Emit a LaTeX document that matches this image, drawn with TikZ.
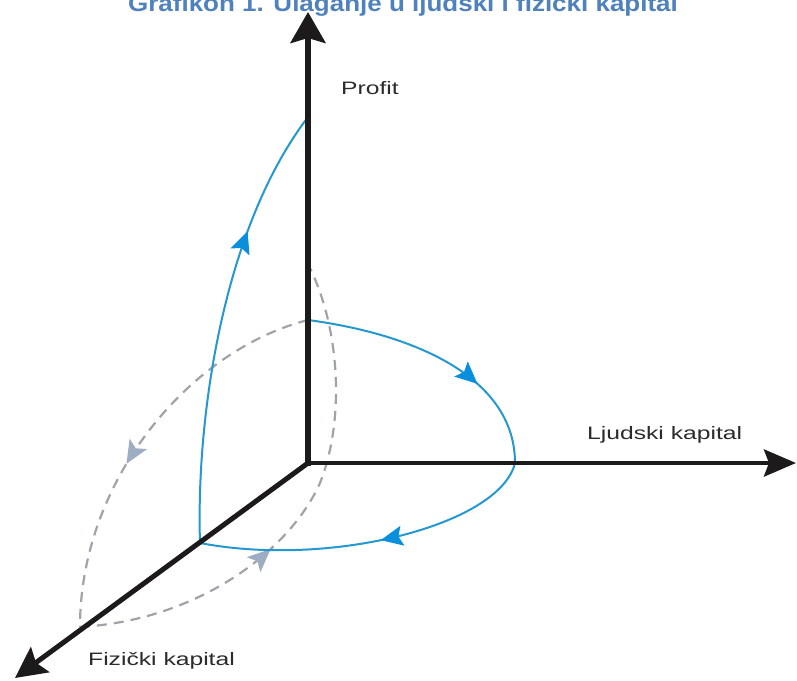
\documentclass[tikz,border=0pt]{standalone}
\usepackage{fontspec}
\setmainfont{Liberation Sans}
\usetikzlibrary{arrows.meta,decorations.markings}
\definecolor{axisblack}{HTML}{1C1A1A}
\definecolor{curveblue}{RGB}{38,152,208}
\definecolor{arrowblue}{RGB}{10,143,220}
\definecolor{dashgray}{RGB}{160,164,170}
\definecolor{arrowgray}{RGB}{158,174,194}
\definecolor{titleblue}{HTML}{4F81BD}
\definecolor{labelgray}{HTML}{2B2B2B}
\tikzset{
  axisline/.style={draw=axisblack, line cap=rect},
  bluecurve/.style={draw=curveblue, line width=2pt},
  graycurve/.style={draw=dashgray, line width=2.2pt, dash pattern=on 10pt off 7pt},
  bluemark/.style={postaction={decorate}, decoration={markings,
      mark=at position #1 with {\arrow{Stealth[length=22pt,width=20pt,inset=4pt,color=arrowblue]}}}},
  graymark/.style={postaction={decorate}, decoration={markings,
      mark=at position #1 with {\arrow{Stealth[length=23pt,width=20pt,inset=5pt,color=arrowgray]}}}},
  axislabel/.style={inner sep=0pt, anchor=base west, text=labelgray, font=\fontsize{18pt}{20pt}\selectfont},
}
\begin{document}
\begin{tikzpicture}[x=1pt,y=-1pt]
\useasboundingbox (0,0) rectangle (797,680);
\clip (0,0) rectangle (797,680);
\fill[white] (0,0) rectangle (797,680);

% key points
\coordinate (O) at (308,463);
\coordinate (ytip) at (308,12);
\coordinate (xtip) at (796,463);
\coordinate (ztip) at (15,678);
\coordinate (Ptop) at (308,117);
\coordinate (Pmid) at (308,320);
\coordinate (Ptopd) at (310,268);
\coordinate (Xp) at (515,463);
\coordinate (Zb) at (200,543);
\coordinate (Zd) at (80,627);
\coordinate (Bm) at (320,483);

% title (clipped at the top, as in the reference)
\node[inner sep=0pt, anchor=base, text=titleblue, font=\fontsize{23pt}{25pt}\selectfont\bfseries] (title) at (403,11)
  {\scalebox{1.13}[1]{Grafikon 1. Ulaganje u ljudski i fizički kapital}};

% gray dashed curves
\draw[graycurve, graymark=0.58] (Pmid) .. controls (190,350) and (80,480) .. (Zd);
\draw[graycurve, graymark=210pt] (Zd) .. controls (200,620) and (290,550) .. (Bm)
      .. controls (345,420) and (340,330) .. (Ptopd);

% blue curves
\draw[bluecurve, bluemark=0.71] (Zb) .. controls (196,420) and (222,230) .. (Ptop);
\draw[bluecurve, bluemark=0.67] (Pmid) .. controls (420,335) and (515,380) .. (Xp);
\draw[bluecurve, bluemark=0.47] (Xp) .. controls (500,525) and (330,568) .. (Zb);

% axes
\draw[axisline, line width=5.5pt, -{Stealth[length=31pt,width=35pt,inset=5pt]}] (O) -- (ytip);
\draw[axisline, line width=4.5pt, -{Stealth[length=32pt,width=27pt,inset=5pt]}] (O) -- (xtip);
\draw[axisline, line width=5pt, line cap=round, -{Stealth[length=31pt,width=31pt,inset=5pt]}] (O) -- (ztip);

% labels
\node[axislabel] (lprofit) at (341,94) {\scalebox{1.37}[1]{Profit}};
\node[axislabel] (lljud) at (587,439) {\scalebox{1.37}[1]{Ljudski kapital}};
\node[axislabel] (lfiz) at (88,665) {\scalebox{1.37}[1]{Fizički kapital}};
\end{tikzpicture}
\end{document}
